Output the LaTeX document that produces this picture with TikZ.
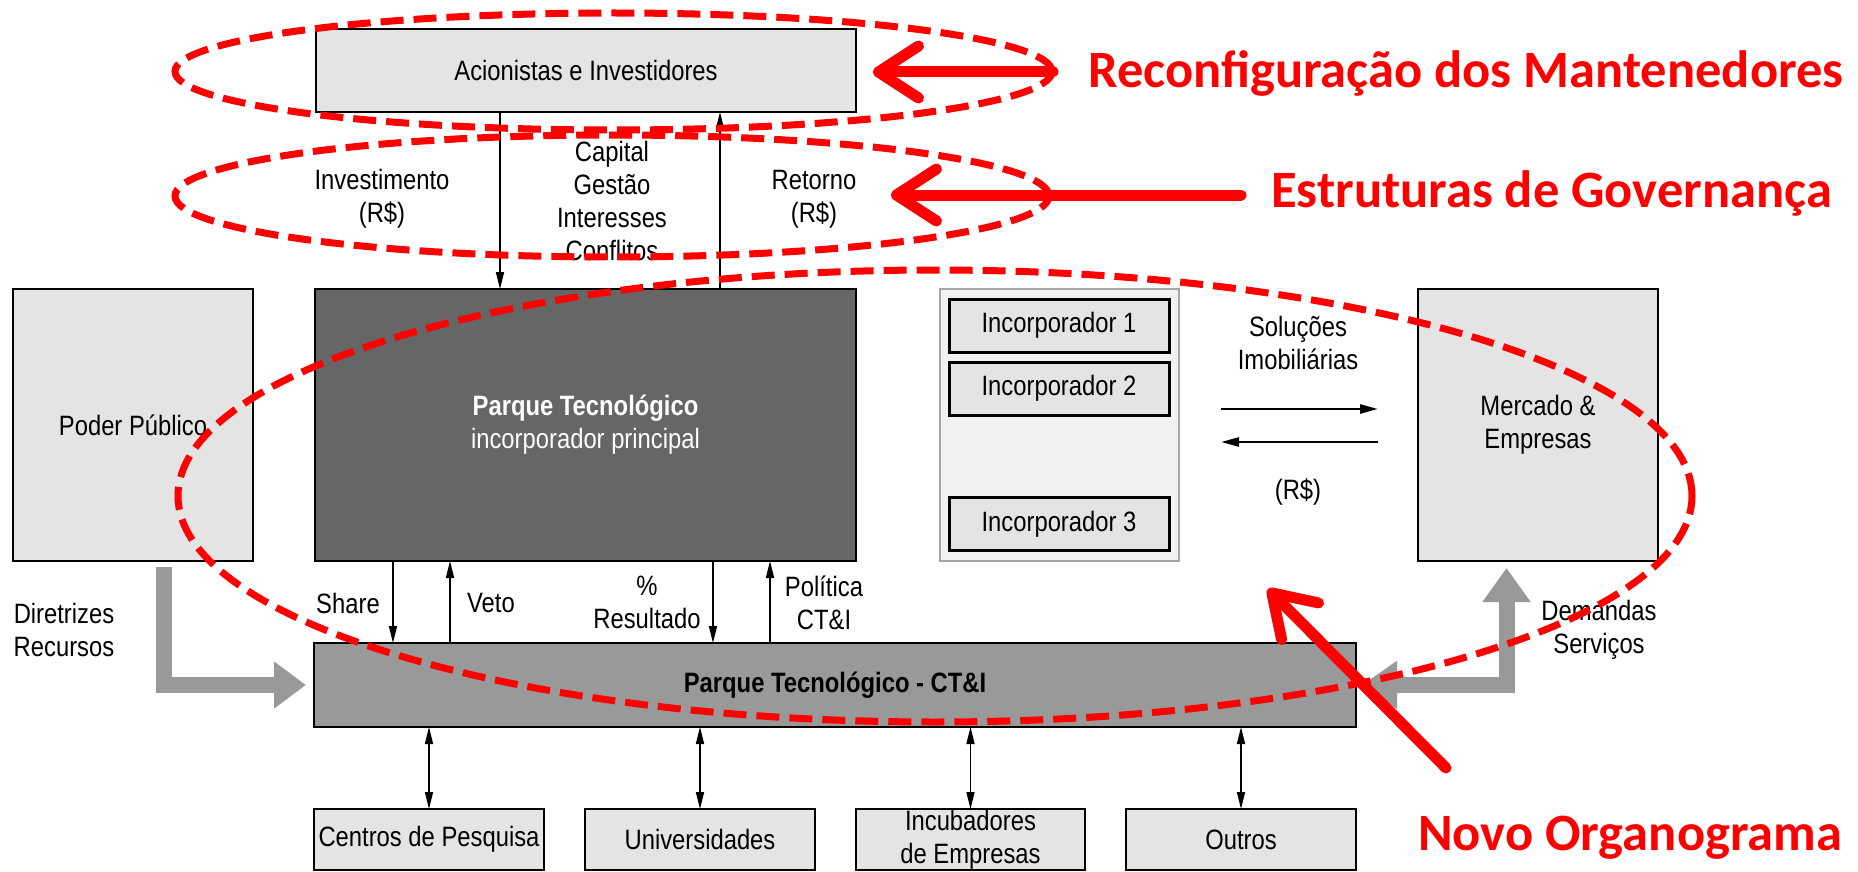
\documentclass[tikz,border=0pt]{standalone}
\usepackage{fontspec}
\setmainfont{Liberation Sans}[FakeStretch=0.85]
\newfontfamily\calib{Carlito}
\usetikzlibrary{arrows.meta,calc}
\definecolor{boxgray}{HTML}{E4E4E4}
\definecolor{parkdark}{HTML}{666666}
\definecolor{midgray}{HTML}{999999}
\definecolor{contgray}{HTML}{F2F2F2}
\definecolor{contborder}{HTML}{A6A6A6}
\definecolor{annred}{HTML}{FF0000}
\newcommand\fsz{\fontsize{28pt}{33pt}\selectfont}
\begin{document}
\begin{tikzpicture}[x=1pt,y=-1pt,
  box/.style={draw=black, line width=2.5pt, fill=boxgray, inner sep=0pt, outer sep=0pt, align=center, font=\fsz},
  lbl/.style={font=\fsz, align=center, inner sep=0pt},
  conn/.style={line width=1.6pt, -{Triangle[length=17pt,width=8pt]}},
  dconn/.style={line width=1.6pt, {Triangle[length=17pt,width=8pt]}-{Triangle[length=17pt,width=8pt]}},
  flow/.style={line width=2.5pt, -{Triangle[length=18pt,width=9pt]}},
  grayarr/.style={draw=midgray, line width=16pt, line join=miter},
  redell/.style={draw=annred, line width=7pt, dash pattern=on 23pt off 10pt},
  redarr/.style={draw=annred, line width=11pt, line cap=round, -{Straight Barb[length=40pt,width=52pt,round]}},
  redtxt/.style={text=annred, font=\calib\bfseries\fontsize{52.5pt}{60pt}\selectfont, inner sep=0pt, anchor=base west}
]
\useasboundingbox (0,0) rectangle (1858,872);

% boxes
\node[box, minimum width=540pt, minimum height=83pt] (acion) at (586,70.5) {Acionistas e Investidores};
\node[box, minimum width=240pt, minimum height=272pt] (poder) at (133,425) {Poder Público};
\node[box, fill=parkdark, text=white, minimum width=541pt, minimum height=272pt] (dark) at (585.5,425) {\textbf{Parque Tecnológico}\\incorporador principal};
\node[box, fill=contgray, draw=contborder, line width=1.5pt, minimum width=239pt, minimum height=272pt] (cont) at (1059.5,425) {};
\node[box, line width=3pt, minimum width=220pt, minimum height=53pt] (inc1) at (1059,325.5) {Incorporador 1};
\node[box, line width=3pt, minimum width=220pt, minimum height=53pt] (inc2) at (1059,388.5) {Incorporador 2};
\node[box, line width=3pt, minimum width=220pt, minimum height=53pt] (inc3) at (1059,524) {Incorporador 3};
\node[box, minimum width=240pt, minimum height=272pt] (merc) at (1538,425) {Mercado \&\\Empresas};
\node[box, fill=midgray, minimum width=1042pt, minimum height=84pt] (cti) at (835,685) {\textbf{Parque Tecnológico - CT\&I}};
\node[box, minimum width=230pt, minimum height=61pt] (centros) at (429,839.5) {Centros de Pesquisa};
\node[box, minimum width=230pt, minimum height=61pt] (univ) at (700,839.5) {Universidades};
\node[box, minimum width=229pt, minimum height=61pt] (incub) at (970.5,839.5) {Incubadores\\de Empresas};
\node[box, minimum width=230pt, minimum height=61pt] (outros) at (1241,839.5) {Outros};

% labels
\node[lbl] (inv) at (382,199) {Investimento\\(R\$)};
\node[lbl] (capg) at (612,201) {Capital\\Gestão\\Interesses\\Conflitos};
\node[lbl] (ret) at (814,199) {Retorno\\(R\$)};
\node[lbl] (share) at (348,603) {Share};
\node[lbl] (veto) at (491,603) {Veto};
\node[lbl] (res) at (647,602) {\%\\Resultado};
\node[lbl] (pol) at (824,603) {Política\\CT\&I};
\node[lbl] (dir) at (64,630) {Diretrizes\\Recursos};
\node[lbl] (dem) at (1599,630) {Demandas\\Serviços};
\node[lbl] (sol) at (1298,343) {Soluções\\Imobiliárias};
\node[lbl] (rs) at (1298,492) {(R\$)};

% connectors
\draw[conn] ([xshift=184pt]acion.south west) -- ([xshift=185pt]dark.north west);
\draw[conn] ([xshift=405pt]dark.north west) -- ([xshift=404pt]acion.south west);
\draw[conn] ([xshift=78pt]dark.south west) -- ([xshift=79pt]cti.north west);
\draw[conn] ([xshift=136pt]cti.north west) -- ([xshift=135pt]dark.south west);
\draw[conn] ([xshift=398pt]dark.south west) -- ([xshift=399pt]cti.north west);
\draw[conn] ([xshift=456pt]cti.north west) -- ([xshift=455pt]dark.south west);
\draw[dconn] (centros.north) -- (centros.north |- cti.south);
\draw[dconn] (univ.north) -- (univ.north |- cti.south);
\draw[dconn] (incub.north) -- (incub.north |- cti.south);
\draw[dconn] (outros.north) -- (outros.north |- cti.south);
\draw[flow] ([shift={(42pt,16pt)}]cont.east) -- ([shift={(-40pt,16pt)}]merc.west);
\draw[flow] ([shift={(-40pt,-17pt)}]merc.west) -- ([shift={(42pt,-17pt)}]cont.east);

% gray arrows
\draw[grayarr, -{Triangle[length=32pt,width=45pt]}] ([shift={(151pt,-6pt)}]poder.south west) |- ([xshift=-8pt]cti.west);
\draw[grayarr, {Triangle[length=35pt,width=46pt]}-{Triangle[length=34pt,width=46pt]}] ([xshift=6pt]cti.east) -| ([shift={(88.5pt,-7pt)}]merc.south west);

% red annotations
\draw[redell] (613.5,71.5) ellipse [x radius=438.5pt, y radius=58.5pt];
\draw[redell] (612,196) ellipse [x radius=437pt, y radius=61pt];
\draw[redell] (935,496) ellipse [x radius=757pt, y radius=226pt];

\node[redtxt] (t1) at (1088,88) {Reconfiguração dos Mantenedores};
\node[redtxt] (t2) at (1271,207) {Estruturas de Governança};
\node[redtxt] (t3) at (1418,850) {Novo Organograma};

\coordinate (r1a) at (1053,72);
\coordinate (r1b) at (873,72);
\coordinate (r2a) at (1241,195);
\coordinate (r2b) at (891,195);
\coordinate (r3a) at (1446,768);
\coordinate (r3b) at (1268,589);
\draw[redarr] (r1a) -- (r1b);
\draw[redarr] (r2a) -- (r2b);
\draw[redarr] (r3a) -- (r3b);
\end{tikzpicture}
\end{document}
